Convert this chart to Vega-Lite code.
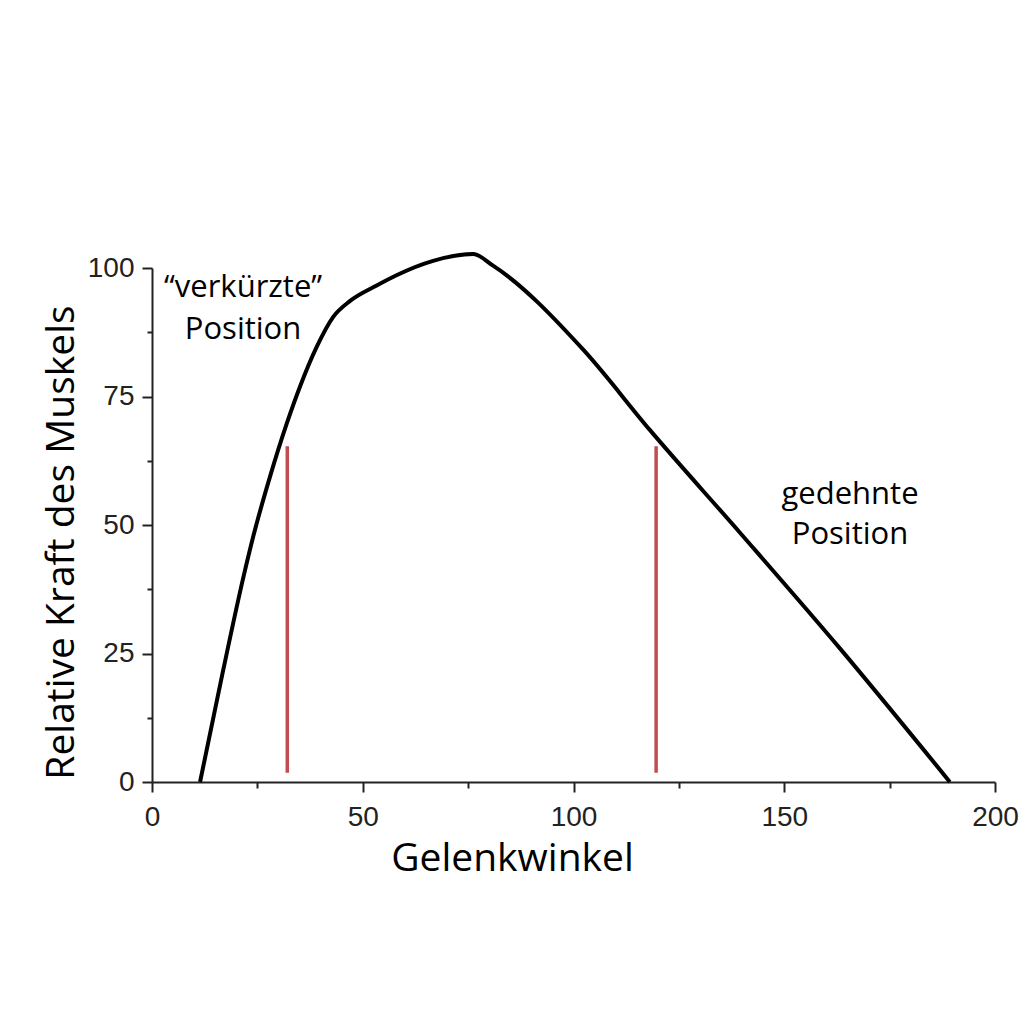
{
  "$schema": "https://vega.github.io/schema/vega-lite/v6.json",
  "autosize": {"type": "none"},
  "padding": {"left": 152, "top": 268, "right": 29, "bottom": 242},
  "width": 843,
  "height": 514,
  "background": "white",
  "config": {"view": {"stroke": null}},
  "datasets": {
    "curve": [
      {"winkel": 11.4, "kraft": 0},
      {"winkel": 16.9, "kraft": 21.8},
      {"winkel": 21.7, "kraft": 39.9},
      {"winkel": 24, "kraft": 47.7},
      {"winkel": 28, "kraft": 59.4},
      {"winkel": 32, "kraft": 69.8},
      {"winkel": 35.1, "kraft": 76.9},
      {"winkel": 39.1, "kraft": 84.7},
      {"winkel": 43, "kraft": 90.5},
      {"winkel": 47, "kraft": 93.6},
      {"winkel": 53.3, "kraft": 96.6},
      {"winkel": 58, "kraft": 98.6},
      {"winkel": 66.7, "kraft": 101.4},
      {"winkel": 76.2, "kraft": 102.7},
      {"winkel": 81, "kraft": 100.4},
      {"winkel": 102.2, "kraft": 84.2},
      {"winkel": 118.1, "kraft": 68.5},
      {"winkel": 139.5, "kraft": 48.5},
      {"winkel": 163.2, "kraft": 26},
      {"winkel": 189.3, "kraft": 0}
    ],
    "marker": [
      {"winkel": 32.1, "von": 1.8, "bis": 65.3},
      {"winkel": 119.6, "von": 1.8, "bis": 65.3}
    ],
    "notes": [
      {"winkel": 21.6, "kraft": 94.4, "text": "“verkürzte”"},
      {"winkel": 21.6, "kraft": 86.2, "text": "Position"},
      {"winkel": 165.6, "kraft": 54.1, "text": "gedehnte"},
      {"winkel": 165.6, "kraft": 46.4, "text": "Position"}
    ]
  },
  "layer": [
    {
      "data": {"name": "curve"},
      "mark": {"type": "line", "color": "black", "strokeWidth": 4, "interpolate": "monotone"},
      "encoding": {
        "x": {
          "field": "winkel",
          "type": "quantitative",
          "scale": {"domain": [0, 200], "nice": false},
          "axis": {
            "values": [0, 25, 50, 75, 100, 125, 150, 175, 200],
            "labelExpr": "datum.value % 50 === 0 ? datum.label : ''",
            "grid": false,
            "domainColor": "#222",
            "domainWidth": 2,
            "tickColor": "#222",
            "tickWidth": 2,
            "tickSize": {"condition": {"test": "datum.value % 50 === 0", "value": 10}, "value": 6},
            "labelFont": "Liberation Sans",
            "labelFontSize": 28,
            "labelColor": "#222",
            "labelPadding": 11,
            "labelFlush": false,
            "title": "Gelenkwinkel",
            "titleFont": "Open Sans",
            "titleFontSize": 39,
            "titleFontWeight": "normal",
            "titleColor": "black",
            "titleX": 360,
            "titleY": 88,
            "titleBaseline": "alphabetic"
          }
        },
        "y": {
          "field": "kraft",
          "type": "quantitative",
          "scale": {"domain": [0, 100], "nice": false},
          "axis": {
            "values": [0, 12.5, 25, 37.5, 50, 62.5, 75, 87.5, 100],
            "labelExpr": "datum.value % 25 === 0 ? datum.label : ''",
            "grid": false,
            "domainColor": "#222",
            "domainWidth": 2,
            "tickColor": "#222",
            "tickWidth": 2,
            "tickSize": {"condition": {"test": "datum.value % 25 === 0", "value": 10}, "value": 5},
            "labelFont": "Liberation Sans",
            "labelFontSize": 28,
            "labelColor": "#222",
            "labelPadding": 8,
            "labelFlush": false,
            "title": "Relative Kraft des Muskels",
            "titleFont": "Open Sans",
            "titleFontSize": 39,
            "titleFontWeight": "normal",
            "titleColor": "black",
            "titleX": -79,
            "titleY": 274,
            "titleBaseline": "alphabetic"
          }
        }
      }
    },
    {
      "data": {"name": "marker"},
      "mark": {"type": "rule", "color": "#c24d4d", "strokeWidth": 3.5},
      "encoding": {
        "x": {"field": "winkel", "type": "quantitative"},
        "y": {"field": "von", "type": "quantitative"},
        "y2": {"field": "bis"}
      }
    },
    {
      "data": {"name": "notes"},
      "mark": {"type": "text", "font": "Open Sans", "fontSize": 31, "color": "black", "align": "center", "baseline": "alphabetic"},
      "encoding": {
        "x": {"field": "winkel", "type": "quantitative"},
        "y": {"field": "kraft", "type": "quantitative"},
        "text": {"field": "text", "type": "nominal"}
      }
    }
  ]
}
